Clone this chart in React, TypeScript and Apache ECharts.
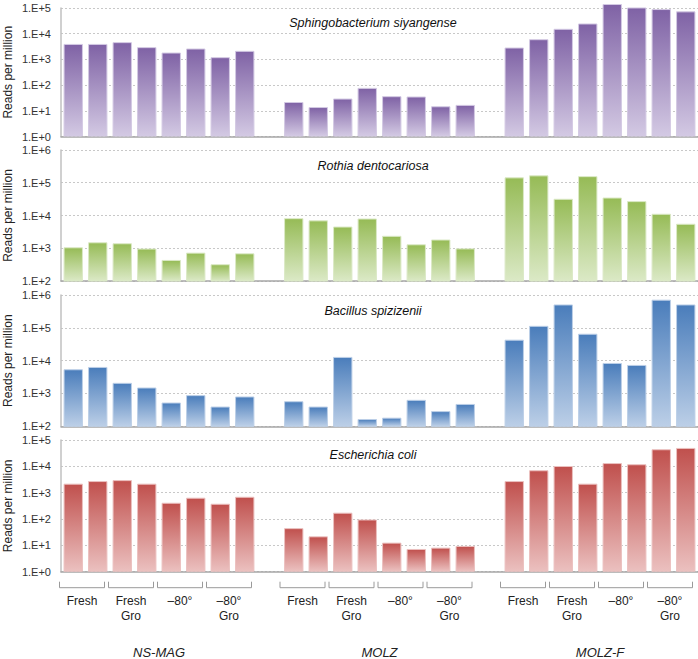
import React, { useEffect, useRef } from "react";
import * as echarts from "echarts";

const groups = ["NS-MAG", "MOLZ", "MOLZ-F"];
const conditions = ["Fresh", "Fresh\nGro", "–80°", "–80°\nGro"];
const replicates = ["a", "b"];
const species = [
  "Sphingobacterium siyangense",
  "Rothia dentocariosa",
  "Bacillus spizizenii",
  "Escherichia coli",
];

// Reads per million, 8 samples per group (Fresh x2, Fresh Gro x2, –80° x2, –80° Gro x2)
const sphingoNSMAG = [4000, 4000, 4700, 3000, 1850, 2650, 1220, 2150];
const sphingoMOLZ = [22, 14, 30, 78, 37, 36, 15, 17];
const sphingoMOLZF = [2900, 6100, 15500, 25000, 143000, 105000, 91000, 74000];

const rothiaNSMAG = [1070, 1520, 1420, 980, 440, 735, 325, 700];
const rothiaMOLZ = [8300, 7100, 4600, 8100, 2400, 1320, 1850, 990];
const rothiaMOLZF = [146000, 168000, 32400, 159000, 35400, 27500, 11300, 5600];

const bacillusNSMAG = [5460, 6430, 2110, 1520, 530, 890, 400, 810];
const bacillusMOLZ = [580, 400, 13000, 167, 183, 640, 290, 480];
const bacillusMOLZF = [43600, 115000, 515000, 66000, 8500, 7400, 720000, 515000];

const ecoliNSMAG = [2200, 2760, 3000, 2200, 415, 645, 380, 700];
const ecoliMOLZ = [45, 22, 174, 96, 12.7, 7.3, 8.2, 9.5];
const ecoliMOLZF = [2760, 7100, 10300, 2200, 13300, 12000, 44500, 50000];

const yMins = [1, 100, 100, 1];
const yMaxs = [1e5, 1e6, 1e6, 1e5];

const colorsTop = ["#7f62a5", "#96bb56", "#4a7dbb", "#c0504d"];
const colorsBottom = ["#d3c9e3", "#dbe9c6", "#bccfe7", "#ebc0bf"];

const categories: string[] = [];
groups.forEach((g, gi) => {
  conditions.forEach((c) => {
    replicates.forEach((r) => categories.push(`${g} ${c.replace("\n", " ")} ${r}`));
  });
  if (gi < groups.length - 1) categories.push(`gap${gi}`);
});

const build = (a: number[], b: number[], c: number[]) => [...a, "-", ...b, "-", ...c];
const seriesValues = [
  build(sphingoNSMAG, sphingoMOLZ, sphingoMOLZF),
  build(rothiaNSMAG, rothiaMOLZ, rothiaMOLZF),
  build(bacillusNSMAG, bacillusMOLZ, bacillusMOLZF),
  build(ecoliNSMAG, ecoliMOLZ, ecoliMOLZF),
];

const gridTops = [8, 150, 295, 440];
const gridHeights = [128.5, 131, 131.3, 131.7];
const FONT = "Liberation Sans, Arial, sans-serif";

export default function App() {
  const ref = useRef<HTMLDivElement>(null);
  useEffect(() => {
    document.body.style.margin = "0";
    if (!ref.current) return;
    const chart = echarts.init(ref.current, undefined, { renderer: "svg" });
    const option: any = {
      animation: false,
      backgroundColor: "#ffffff",
      textStyle: { fontFamily: FONT },
      title: species.map((s, k) => ({
        text: s,
        left: 373,
        top: gridTops[k] + (k === 0 || k === 3 ? 8 : 9),
        textAlign: "center",
        padding: 0,
        textStyle: { fontStyle: "italic", fontWeight: "normal", fontSize: 12.5, color: "#111", fontFamily: FONT },
      })),
      grid: gridTops.map((t, k) => ({
        left: 61,
        width: 637,
        top: t,
        height: gridHeights[k],
        containLabel: false,
        outerBoundsMode: "none",
      })),
      xAxis: gridTops.map((_, k) => ({
        type: "category",
        gridIndex: k,
        data: categories,
        axisLabel: { show: false },
        axisTick: { show: false },
        axisLine: { show: true, lineStyle: { color: "#a6a6a6", width: 1.5 } },
        splitLine: { show: false },
      })),
      yAxis: gridTops.map((_, k) => ({
        type: "log",
        logBase: 10,
        gridIndex: k,
        min: yMins[k],
        max: yMaxs[k],
        name: "Reads per million",
        nameLocation: "middle",
        nameRotate: 90,
        nameGap: 47,
        nameMoveOverlap: false,
        nameTextStyle: { fontSize: 12, color: "#222", fontFamily: FONT },
        axisLine: { show: true, lineStyle: { color: "#c0c0c0", width: 1.5 } },
        axisTick: { show: false },
        axisLabel: {
          fontSize: 11,
          color: "#333",
          margin: 10,
          fontFamily: FONT,
          formatter: (v: number) => "1.E+" + Math.round(Math.log10(v)),
        },
        splitLine: { show: true, lineStyle: { color: "#c8c8c8", type: [2, 2], width: 1 } },
      })),
      series: seriesValues.map((vals, k) => ({
        type: "bar",
        xAxisIndex: k,
        yAxisIndex: k,
        data: vals,
        barCategoryGap: "21%",
        clip: k !== 0,
        itemStyle: {
          borderColor: colorsBottom[k],
          borderWidth: 1,
          color: new echarts.graphic.LinearGradient(0, 0, 0, 1, [
            { offset: 0, color: colorsTop[k] },
            { offset: 1, color: colorsBottom[k] },
          ]),
        },
      })),
    };
    chart.setOption(option);

    const px = (i: number) => chart.convertToPixel({ xAxisIndex: 3 }, i) as number;
    const yBottom = chart.convertToPixel({ yAxisIndex: 3 }, yMins[3]) as number;
    const pitch = px(1) - px(0);
    const graphics: any[] = [];
    groups.forEach((g, gi) => {
      const base = gi * 9;
      conditions.forEach((c, ci) => {
        const i0 = base + ci * 2;
        const left = px(i0) - pitch / 2 - 1.5;
        const right = px(i0 + 1) + pitch / 2 - 5.5;
        graphics.push({
          type: "polyline",
          silent: true,
          shape: {
            points: [
              [left, yBottom + 10],
              [left, yBottom + 16],
              [right, yBottom + 16],
              [right, yBottom + 10],
            ],
          },
          style: { stroke: "#9a9a9a", lineWidth: 1, fill: null },
        });
        graphics.push({
          type: "text",
          x: (left + right) / 2,
          y: yBottom + 22,
          style: {
            text: c,
            align: "center",
            verticalAlign: "top",
            font: `12px ${FONT}`,
            lineHeight: 15,
            fill: "#222",
          },
        });
      });
      graphics.push({
        type: "text",
        x: (px(base) + px(base + 7)) / 2,
        y: yBottom + 81,
        style: {
          text: g,
          align: "center",
          verticalAlign: "middle",
          font: `italic 13px ${FONT}`,
          fill: "#222",
        },
      });
    });
    chart.setOption({ graphic: graphics });
    return () => chart.dispose();
  }, []);
  return <div ref={ref} style={{ width: 698, height: 659 }} />;
}
